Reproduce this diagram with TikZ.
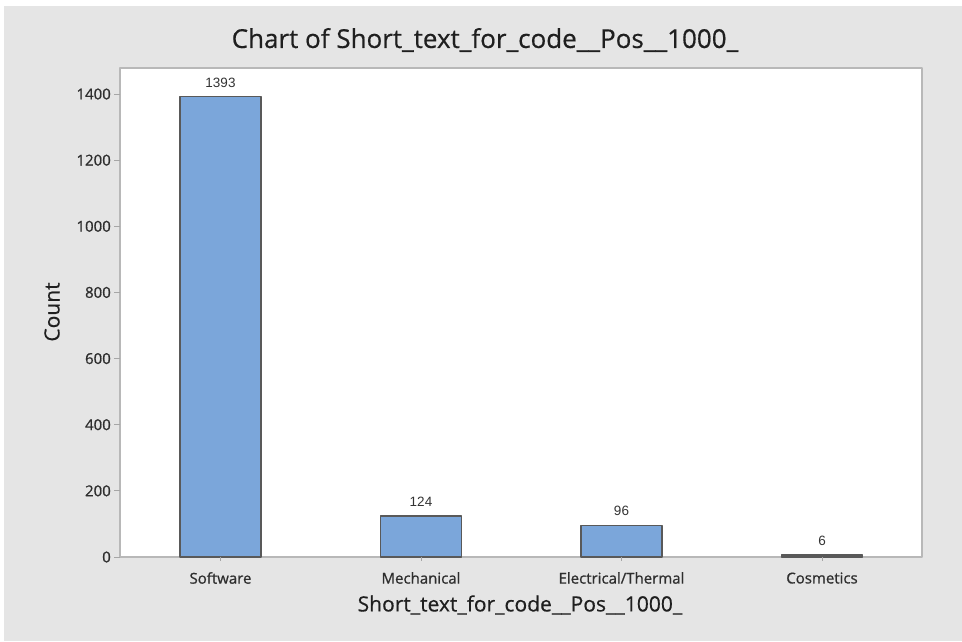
\documentclass[tikz,border=0pt]{standalone}
\usepackage{fontspec}
\setmainfont{Open Sans}
\newfontfamily\valfont{Liberation Sans}
\newfontfamily\medfont[FakeBold=0.5]{Open Sans}
\newfontfamily\semifont[FakeBold=0.9]{Open Sans}
\begin{document}
\begin{tikzpicture}[x=1pt, y=-1pt, line join=round,
	bg/.style={fill=black!10, draw=none},
	frame/.style={draw=black!28, line width=1.6pt},
	bar/.style={fill=barblue, draw=black!65, line width=1.1pt},
	tick/.style={draw=black!35, line width=0.9pt},
	ticklab/.style={font=\semifont\fontsize{15}{17}\selectfont, text=black!82, inner sep=1pt},
	vallab/.style={font=\valfont\fontsize{13.5}{15}\selectfont, text=black!80, inner sep=1pt},
	axlab/.style={font=\medfont\fontsize{21}{24}\selectfont, text=black!88}]
	\definecolor{barblue}{HTML}{7BA6DA}
	\useasboundingbox (0,0) rectangle (962,641);
	\fill[white] (0,0) rectangle (962,641);
	\path[bg] (4,6) rectangle (962,641);
	% plot area
	\fill[white] (120,68) rectangle (922,557);
	\draw[frame] (120,557) -- (120,68) -- (922,68) -- (922,557) -- cycle;
	\node[font=\medfont\fontsize{26}{30}\selectfont, text=black!88] (title) at (485,40) {Chart of Short\_text\_for\_code\_\_Pos\_\_1000\_};
	% y ticks
	\foreach \v in {0,200,...,1400}{
		\coordinate (t\v) at (120,{557-\v*0.3307});
		\draw[tick] (t\v) -- ++(-6,0);
		\node[ticklab, anchor=east] (y\v) at ([xshift=-8pt]t\v) {\v};
	}
	% bars
	\foreach \cx/\val/\name/\lab in {220.5/1393/sw/Software, 421/124/me/Mechanical, 621.5/96/el/{Electrical/Thermal}, 822/6/co/Cosmetics}{
		\coordinate (\name b) at (\cx,557);
		\coordinate (\name t) at (\cx,{557-\val*0.3307});
		\draw[bar] ([xshift=-40.5pt]\name b) rectangle ([xshift=40.5pt]\name t);
		\draw[tick] (\name b) -- ++(0,4);
		\node[vallab, anchor=south] (\name v) at ([yshift=8pt]\name t) {\val};
		\node[ticklab] (\name l) at (\cx,578) {\lab};
	}
	\node[axlab] (xlab) at (520,605) {Short\_text\_for\_code\_\_Pos\_\_1000\_};
	\node[axlab, rotate=90] (ylab) at (52,312) {Count};
\end{tikzpicture}
\end{document}
